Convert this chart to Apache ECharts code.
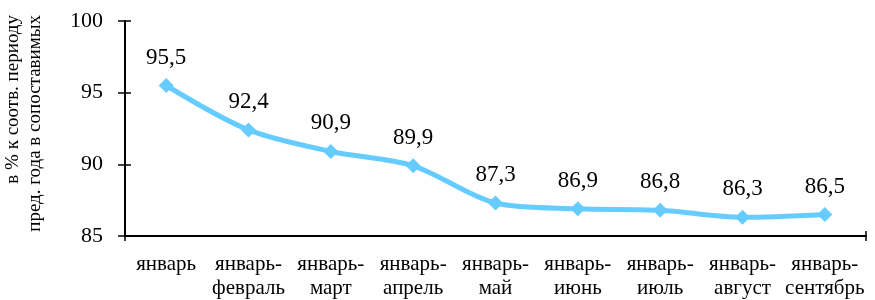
<!DOCTYPE html>
<html>
<head>
<meta charset="utf-8">
<script src="https://cdn.jsdelivr.net/npm/echarts@6/dist/echarts.min.js"></script>
<style>
  html, body { margin: 0; padding: 0; background: #fff; }
  #chart { width: 875px; height: 300px; }
</style>
</head>
<body>
<div id="chart"></div>
<script>
const categories = [
  'январь', 'январь-\nфевраль', 'январь-\nмарт', 'январь-\nапрель', 'январь-\nмай',
  'январь-\nиюнь', 'январь-\nиюль', 'январь-\nавгуст', 'январь-\nсентябрь'
];
const values = [95.5, 92.4, 90.9, 89.9, 87.3, 86.9, 86.8, 86.3, 86.5];
const yTicks = { min: 85, max: 100, step: 5 };
const yName = 'в % к соотв. периоду\nпред. года в сопоставимых';

const font = '"Liberation Serif", "Times New Roman", serif';
const chart = echarts.init(document.getElementById('chart'));

const tickStyle = { color: '#000', width: 1.5 };
// helper axes only carry tick marks, so ticks cross the axis line
const bare = { axisLine: { show: false }, axisLabel: { show: false }, splitLine: { show: false } };

chart.setOption({
  animation: false,
  grid: { left: 125, right: 9, top: 21, bottom: 62 },
  xAxis: [{
    type: 'category',
    data: categories,
    boundaryGap: true,
    axisLine: { lineStyle: { color: '#000', width: 2 } },
    axisTick: { alignWithLabel: true, length: 5, lineStyle: tickStyle },
    axisLabel: {
      color: '#000', fontFamily: font, fontSize: 21, lineHeight: 24,
      margin: 16, interval: 0
    }
  }, {
    type: 'category',
    data: categories,
    position: 'bottom',
    ...bare,
    axisTick: { alignWithLabel: true, inside: true, length: 5, lineStyle: tickStyle }
  }, {
    type: 'value',
    min: 0, max: 1, interval: 1,
    position: 'bottom',
    ...bare,
    axisTick: { length: 5, lineStyle: tickStyle }
  }, {
    type: 'value',
    min: 0, max: 1, interval: 1,
    position: 'bottom',
    ...bare,
    axisTick: { inside: true, length: 5, lineStyle: tickStyle }
  }],
  yAxis: [{
    type: 'value',
    min: yTicks.min, max: yTicks.max, interval: yTicks.step,
    axisLine: { show: true, lineStyle: { color: '#000', width: 2 } },
    axisTick: { show: true, length: 7, lineStyle: tickStyle },
    splitLine: { show: false },
    axisLabel: { color: '#000', fontFamily: font, fontSize: 22, margin: 22 }
  }, {
    type: 'value',
    min: yTicks.min, max: yTicks.max, interval: yTicks.step,
    position: 'left',
    ...bare,
    axisTick: { show: true, inside: true, length: 6, lineStyle: tickStyle }
  }],
  graphic: [{
    type: 'text',
    x: 24, y: 15,
    rotation: Math.PI / 2,
    style: {
      text: yName,
      fill: '#000',
      font: '19px ' + font,
      lineHeight: 22,
      textAlign: 'right',
      textVerticalAlign: 'middle'
    }
  }],
  series: [{
    type: 'line',
    data: values,
    smooth: 0.3,
    symbol: 'diamond',
    symbolSize: 15,
    itemStyle: { color: '#66CCFF' },
    lineStyle: { color: '#66CCFF', width: 5 },
    label: {
      show: true,
      position: 'top',
      distance: 9,
      color: '#000',
      fontFamily: font,
      fontSize: 23,
      formatter: p => String(p.value).replace('.', ',')
    }
  }]
});
</script>
</body>
</html>
